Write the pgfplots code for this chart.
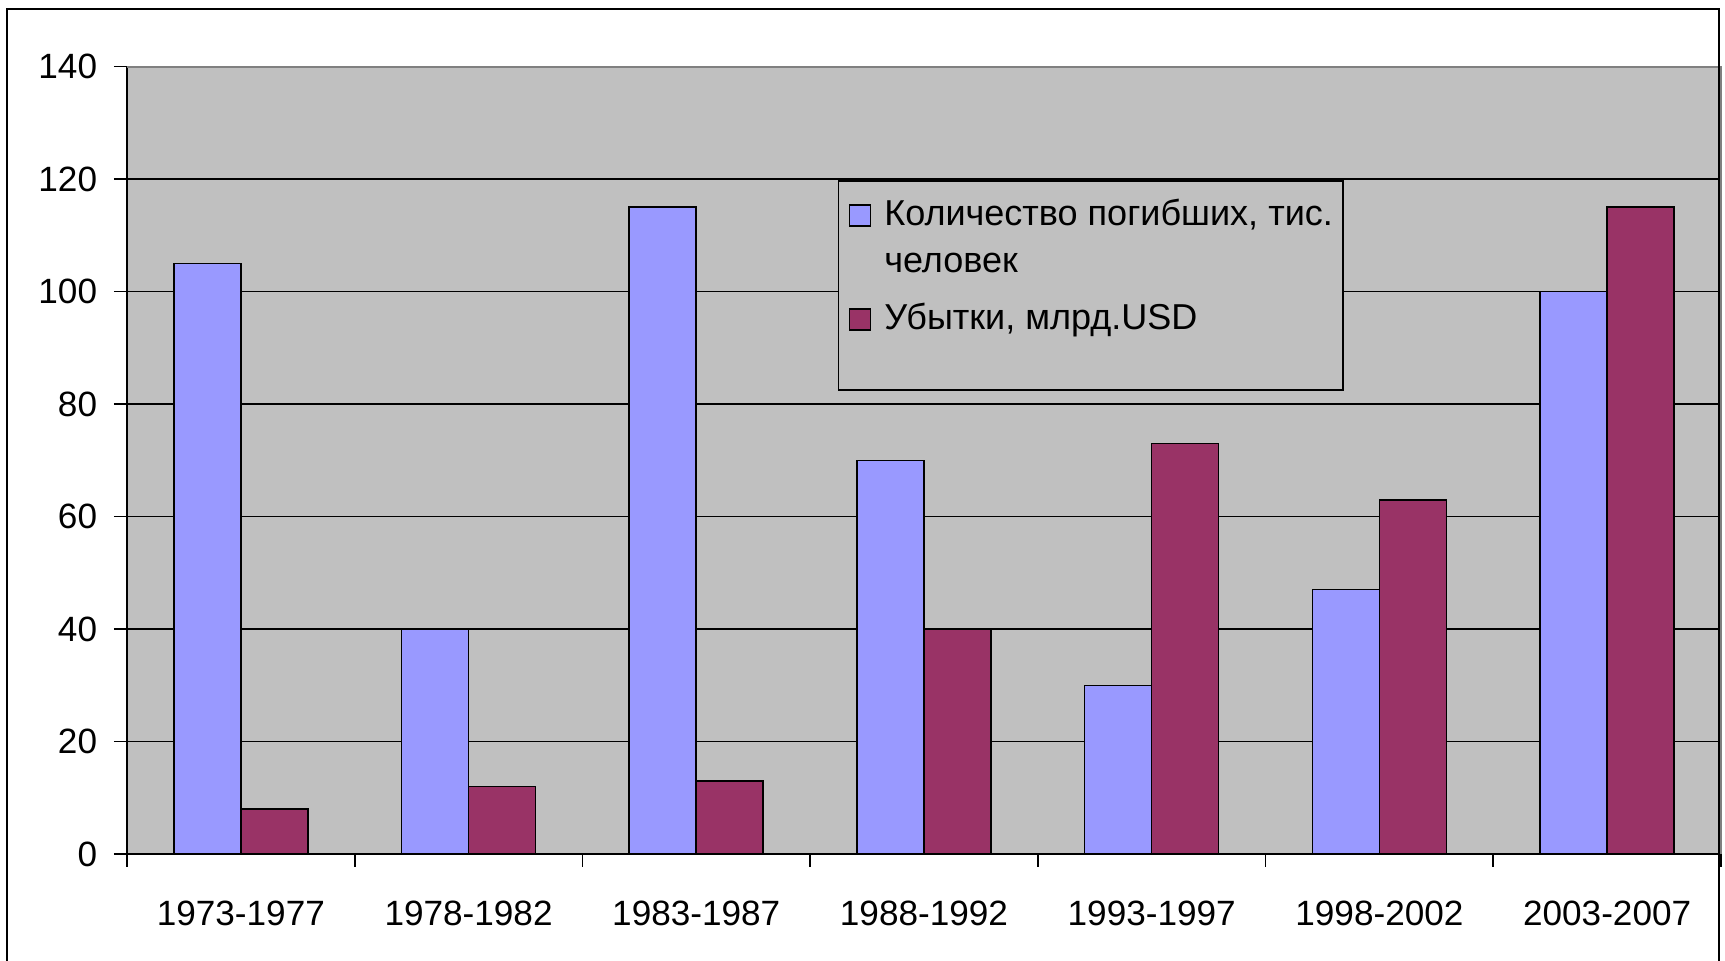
\documentclass[border=0pt]{standalone}
\usepackage{fontspec}
\setmainfont{Liberation Sans}
\usepackage{pgfplots}
\pgfplotsset{compat=1.18}
\definecolor{barBlue}{HTML}{9999FF}
\definecolor{barRed}{HTML}{993366}
\definecolor{plotGray}{HTML}{C0C0C0}
\definecolor{edgeGray}{HTML}{808080}

\begin{document}
\begin{tikzpicture}
  \begin{axis}[
    at={(1.27cm,1.07cm)},anchor=south west,
    scale only axis,width=15.94cm,height=7.873cm,
    xmin=-0.5,xmax=6.5,ymin=0,ymax=140,
    ytick={0,20,...,140},
    xtick={0,...,6},
    xticklabels={1973-1977,1978-1982,1983-1987,1988-1992,1993-1997,1998-2002,2003-2007},
    minor xtick={-0.5,0.5,...,6.5},
    major x tick style={draw=none},
    tick style={black,line width=0.45pt},
    tick align=outside,
    major tick length=0.13cm,minor tick length=0.13cm,
    axis x line*=bottom,axis y line*=left,
    axis line style={black,line width=0.45pt},
    axis background/.style={fill=plotGray},
    ymajorgrids,grid style={black,line width=0.45pt},
    tick label style={font=\fontsize{10}{12}\selectfont},
    xticklabel style={yshift=-0.22cm},
    yticklabel style={xshift=-0.045cm},
    /pgf/number format/assume math mode=true,
    ybar=0pt,bar width=0.67cm,
    legend style={at={(rel axis cs:0.446,0.856)},anchor=north west,
      fill=plotGray,draw=black,line width=0.45pt,
      font=\fontsize{10.25}{13.3}\selectfont,
      nodes={inner sep=0pt},column sep=0.13cm,row sep=0.10cm,
      inner xsep=0.10cm,inner ysep=0.12cm},
    legend cell align=left,
    after end axis/.code={
      \draw[edgeGray,line width=0.6pt] (rel axis cs:0,1) -- (rel axis cs:1,1) -- (rel axis cs:1,0);},
  ]
    \addplot[fill=barBlue,draw=black,line width=0.45pt,
      legend image code/.code={\path[draw=none,fill=none] (0cm,-0.358cm) -- (0cm,0.358cm);
        \draw[fill=barBlue,draw=black,line width=0.45pt] (0cm,0.14cm) rectangle (0.21cm,0.35cm);}]
      coordinates {(0,105) (1,40) (2,115) (3,70) (4,30) (5,47) (6,100)};
    \addlegendentry[text height=0.33cm,text depth=0.61cm]{\begin{tabular}[t]{@{}l@{}}Количество погибших, тис.\\человек\end{tabular}}
    \addplot[fill=barRed,draw=black,line width=0.45pt,
      legend image code/.code={\path[draw=none,fill=none] (0cm,-0.293cm) -- (0cm,0.293cm);
        \draw[fill=barRed,draw=black,line width=0.45pt] (0cm,0.075cm) rectangle (0.21cm,0.285cm);}]
      coordinates {(0,8) (1,12) (2,13) (3,40) (4,73) (5,63) (6,115)};
    \addlegendentry[text height=0.33cm,text depth=0.48cm]{Убытки, млрд.USD}
  \end{axis}
  \draw[black,line width=0.77pt] (0.07cm,-1cm) rectangle (17.19cm,9.52cm);
  \pgfresetboundingbox
  \useasboundingbox (0,0) rectangle (17.25cm,9.61cm);
\end{tikzpicture}
\end{document}
